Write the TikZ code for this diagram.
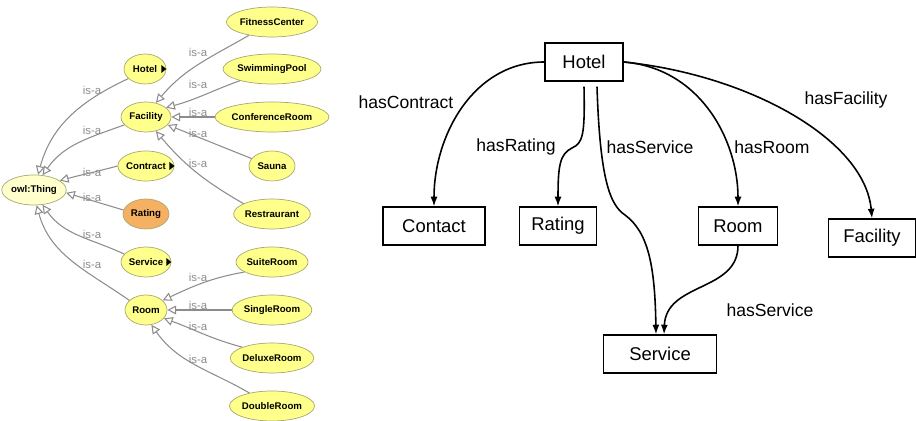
\documentclass[tikz,border=0pt]{standalone}
\usepackage{fontspec}
\setmainfont{Liberation Sans}
\usetikzlibrary{shapes.geometric,arrows.meta}
\definecolor{owlfill}{HTML}{FFFFCC}
\definecolor{clsfill}{HTML}{FFFF8C}
\definecolor{clsline}{HTML}{A8A870}
\definecolor{ratefill}{HTML}{F5B062}
\definecolor{isaline}{HTML}{8C8C8C}

\begin{document}
\begin{tikzpicture}[x=0.02cm,y=0.02cm,
  cls/.style={ellipse,draw=clsline,fill=clsfill,inner sep=0pt,minimum height=0.6cm,font=\fontsize{5.5}{6}\selectfont\bfseries},
  isa/.style={draw=isaline,line width=0.6pt,-{Triangle[open,length=5pt,width=5pt]}},
  isalbl/.style={text=isaline,font=\fontsize{6.5}{7}\selectfont,inner sep=0pt},
  box/.style={draw,line width=0.7pt,minimum height=0.76cm,inner sep=0pt,font=\fontsize{10.5}{12}\selectfont},
  rel/.style={line width=0.9pt,-{Latex[length=5.5pt,width=4pt]}},
  rellbl/.style={font=\fontsize{10}{12}\selectfont,inner sep=0pt}]
\useasboundingbox (0,0) rectangle (916,-421);
\node[cls,fill=owlfill,minimum width=1.2cm] (thing) at (34,-190) {owl:Thing};
\node[cls,minimum width=0.84cm] (hotel) at (145,-69) {Hotel};
\node[cls,minimum width=1cm] (facility) at (146,-117) {Facility};
\node[cls,minimum width=1.08cm] (contract) at (146,-166) {Contract};
\node[cls,fill=ratefill,minimum width=0.92cm] (rating) at (146,-214) {Rating};
\node[cls,minimum width=1cm] (service) at (146,-262) {Service};
\node[cls,minimum width=0.84cm] (room) at (146,-310) {Room};
\node[cls,minimum width=1.48cm] (fitness) at (272,-22) {FitnessCenter};
\node[cls,minimum width=1.64cm] (swimming) at (272,-69) {SwimmingPool};
\node[cls,minimum width=1.8cm] (conference) at (272,-117) {ConferenceRoom};
\node[cls,minimum width=0.92cm] (sauna) at (272,-166) {Sauna};
\node[cls,minimum width=1.16cm] (restaurant) at (272,-214) {Restraurant};
\node[cls,minimum width=1.32cm] (suite) at (272,-262) {SuiteRoom};
\node[cls,minimum width=1.4cm] (single) at (272,-310) {SingleRoom};
\node[cls,minimum width=1.44cm] (deluxe) at (272,-358) {DeluxeRoom};
\node[cls,minimum width=1.44cm] (double) at (272,-406) {DoubleRoom};
\fill ([shift={(-5,4)}]hotel.east) -- ++(5,-4) -- ++(-5,-4) -- cycle;
\fill ([shift={(-5,4)}]contract.east) -- ++(5,-4) -- ++(-5,-4) -- cycle;
\fill ([shift={(-5,4)}]service.east) -- ++(5,-4) -- ++(-5,-4) -- cycle;
\draw[isa] (hotel.210) to[out=205,in=75] (thing.75);
\draw[isa] (facility.200) to[out=200,in=55] (thing.60);
\draw[isa] (contract.west) to[out=195,in=15] (thing.20);
\draw[isa] (rating.170) -- (thing.-5);
\draw[isa] (service.160) to[out=155,in=-55] (thing.-60);
\draw[isa] (room.150) to[out=145,in=-75] (thing.-80);
\draw[isa] (fitness.210) to[out=210,in=50] (facility.55);
\draw[isa] (swimming.200) to[out=200,in=15] (facility.25);
\draw[isa] (conference.west) -- (facility.east);
\draw[isa] (sauna.160) -- (facility.-20);
\draw[isa] (restaurant.160) to[out=150,in=-50] (facility.-55);
\draw[isa] (suite.200) to[out=190,in=25] (room.30);
\draw[isa] (single.west) -- (room.east);
\draw[isa] (deluxe.160) to[out=165,in=-20] (room.-25);
\draw[isa] (double.150) to[out=150,in=-55] (room.-70);
\node[isalbl] (isa1) at (92,-90) {is-a}; \node[isalbl] (isa2) at (92,-130) {is-a};
\node[isalbl] (isa3) at (92,-172) {is-a}; \node[isalbl] (isa4) at (92,-197) {is-a};
\node[isalbl] (isa5) at (92,-234) {is-a}; \node[isalbl] (isa6) at (92,-264) {is-a};
\node[isalbl] (isa7) at (198,-52) {is-a}; \node[isalbl] (isa8) at (198,-84) {is-a};
\node[isalbl] (isa9) at (198,-112) {is-a}; \node[isalbl] (isa10) at (198,-133) {is-a};
\node[isalbl] (isa11) at (198,-163) {is-a}; \node[isalbl] (isa12) at (198,-277) {is-a};
\node[isalbl] (isa13) at (198,-305) {is-a}; \node[isalbl] (isa14) at (198,-326) {is-a};
\node[isalbl] (isa15) at (198,-359) {is-a};
\node[box,minimum width=1.56cm] (rhotel) at (584,-62) {Hotel};
\node[box,minimum width=2.04cm] (rcontact) at (434,-226) {Contact};
\node[box,minimum width=1.54cm] (rrating) at (558,-226) {Rating};
\node[box,minimum width=1.58cm] (rroom) at (738,-226) {Room};
\node[box,minimum width=1.74cm] (rfacility) at (872,-238) {Facility};
\node[box,minimum width=2.26cm] (rservice) at (660,-354) {Service};
\draw[rel] (rhotel.west) to[out=180,in=90] (rcontact.north);
\draw[rel] ([yshift=-0.1cm]rhotel.south) .. controls (585,-135) and (583,-143) .. (572,-148) .. controls (560,-154) and (558,-165) .. (rrating.north);
\draw[rel] ([xshift=0.26cm,yshift=-0.1cm]rhotel.south) .. controls (600,-180) and (610,-205) .. (625,-215) .. controls (648,-232) and (655,-265) .. ([xshift=-0.08cm]rservice.north);
\draw[rel] (rhotel.east) .. controls (700,-68) and (738,-140) .. (rroom.north);
\draw[rel] (rhotel.east) .. controls (750,-75) and (865,-140) .. (rfacility.north);
\draw[rel] (rroom.south) .. controls (738,-292) and (666,-282) .. ([xshift=0.08cm]rservice.north);
\node[rellbl] (lcontract) at (406,-102) {hasContract};
\node[rellbl] (lrating) at (516,-147) {hasRating};
\node[rellbl] (lservice) at (650,-147) {hasService};
\node[rellbl] (lroom) at (772,-147) {hasRoom};
\node[rellbl] (lfacility) at (846,-100) {hasFacility};
\node[rellbl] (lservice2) at (770,-310) {hasService};
\end{tikzpicture}
\end{document}
